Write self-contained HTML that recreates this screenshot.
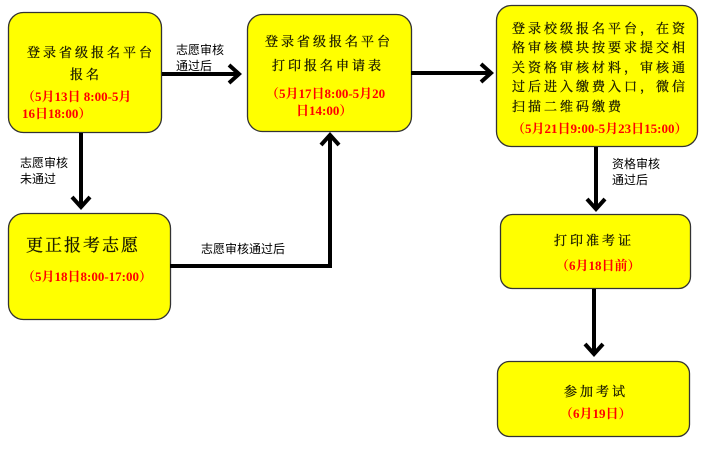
<!DOCTYPE html>
<html><head><meta charset="utf-8"><style>
html,body{margin:0;padding:0;background:#fff;width:704px;height:449px;overflow:hidden}
svg{display:block}
.b{fill:#ffff00;stroke:#333;stroke-width:1.3}
.t{font-family:"Liberation Serif","Noto Serif CJK SC",serif;font-size:13px;fill:#1a1a00;letter-spacing:3px;stroke:#1a1a00;stroke-width:0.3}
.r{font-family:"Liberation Serif","Noto Serif CJK SC",serif;font-size:13px;font-weight:bold;fill:#ff0000}
.l{font-family:"Liberation Sans","Noto Sans CJK SC",sans-serif;font-size:12px;fill:#000}
.a{stroke:#000;stroke-width:4;fill:none}
</style></head><body>
<svg width="704" height="449" viewBox="0 0 704 449">
<rect class="b" x="8.5" y="12.5" width="153" height="120" rx="15"/>
<rect class="b" x="247.5" y="14.5" width="164" height="117" rx="15"/>
<rect class="b" x="496.5" y="5.5" width="201" height="141" rx="15"/>
<rect class="b" x="8.5" y="213.5" width="162" height="106" rx="15"/>
<rect class="b" x="500.5" y="214.5" width="190" height="74" rx="12"/>
<rect class="b" x="497.5" y="361.5" width="192" height="75" rx="12"/>

<path class="a" d="M162 74 H238"/><path class="a" d="M229 65 L239 74 L229 83"/>
<path class="a" d="M411 73 H490"/><path class="a" d="M481 64 L491 73 L481 82"/>
<path class="a" d="M81 133 V206"/><path class="a" d="M72 197 L81 207 L90 197"/>
<path class="a" d="M170 266 H330 V136"/><path class="a" d="M321 145 L330 135 L339 145"/>
<path class="a" d="M596 147 V208"/><path class="a" d="M587 199 L596 209 L605 199"/>
<path class="a" d="M594 289 V353"/><path class="a" d="M585 344 L594 354 L603 344"/>

<text class="l" x="176" y="54">志愿审核</text>
<text class="l" x="176" y="70">通过后</text>
<text class="l" x="20" y="167">志愿审核</text>
<text class="l" x="20" y="183">未通过</text>
<text class="l" x="201" y="253">志愿审核通过后</text>
<text class="l" x="612" y="168">资格审核</text>
<text class="l" x="612" y="184">通过后</text>

<text class="t" x="27" y="57">登录省级报名平台</text>
<text class="t" x="70" y="79">报名</text>
<text class="r" x="22" y="101">（5月13日 8:00-5月</text>
<text class="r" x="22" y="118">16日18:00）</text>

<text class="t" x="265" y="46">登录省级报名平台</text>
<text class="t" x="272" y="70">打印报名申请表</text>
<text class="r" x="266" y="98">（5月17日8:00-5月20</text>
<text class="r" x="296" y="115">日14:00）</text>

<text class="t" x="512" y="33">登录校级报名平台，在资</text>
<text class="t" x="512" y="52">格审核模块按要求提交相</text>
<text class="t" x="512" y="72">关资格审核材料，审核通</text>
<text class="t" x="512" y="91">过后进入缴费入口，微信</text>
<text class="t" x="512" y="111">扫描二维码缴费</text>
<text class="r" x="512" y="133">（5月21日9:00-5月23日15:00）</text>

<text class="t" x="26" y="251" style="font-size:17px;letter-spacing:2px">更正报考志愿</text>
<text class="r" x="22" y="281">（5月18日8:00-17:00）</text>

<text class="t" x="554" y="245">打印准考证</text>
<text class="r" x="556" y="270">（6月18日前）</text>

<text class="t" x="564" y="396">参加考试</text>
<text class="r" x="560" y="418">（6月19日）</text>
</svg>
</body></html>
